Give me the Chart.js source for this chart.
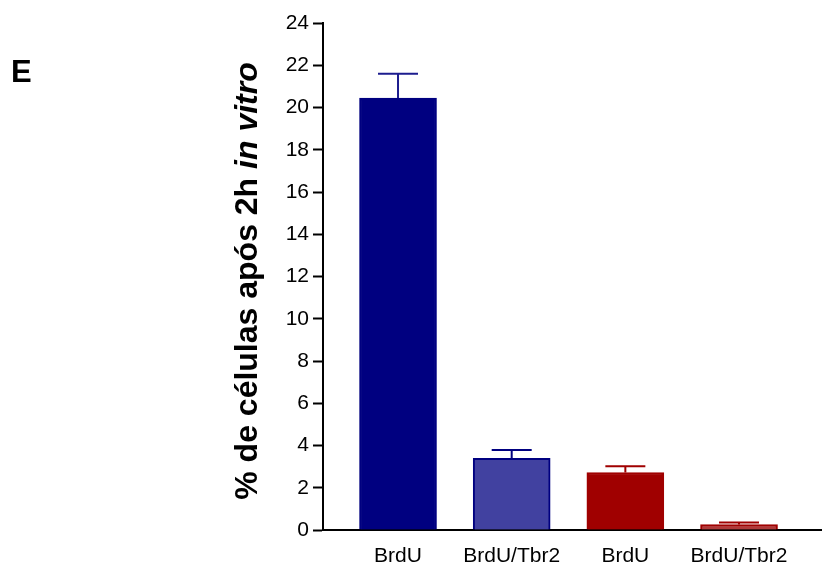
<!DOCTYPE html>
<html>
<head>
<meta charset="utf-8">
<script src="https://cdn.jsdelivr.net/npm/chart.js@4/dist/chart.umd.min.js"></script>
<style>
  html, body { margin: 0; padding: 0; background: #fff; }
  #wrap { position: relative; width: 822px; height: 566px; }
  #panel { position: absolute; left: 11px; top: 54px; font: bold 31px "Liberation Sans", Arial, sans-serif; color: #000; }
  canvas { position: absolute; left: 0; top: 0; }
</style>
</head>
<body>
<div id="wrap">
  <canvas id="chart" width="822" height="566"></canvas>
  <div id="panel">E</div>
</div>
<script>
const categories = ['BrdU', 'BrdU/Tbr2', 'BrdU', 'BrdU/Tbr2'];
const means = [20.45, 3.39, 2.72, 0.26];
const errors = [1.15, 0.4, 0.3, 0.1];
const yTicks = [0, 2, 4, 6, 8, 10, 12, 14, 16, 18, 20, 22, 24];

const fills = ['#000080', '#4141a0', '#a00000', '#b03a3a'];
const borders = ['#000080', '#000080', '#a00000', '#a00000'];
const whiskers = ['#1c1c8e', '#000080', '#a00000', '#a00000'];

const font = '"Liberation Sans", Arial, sans-serif';

// upper error bars only
const errorBars = {
  id: 'errorBars',
  afterDatasetsDraw(chart) {
    const ctx = chart.ctx;
    const y = chart.scales.y;
    chart.getDatasetMeta(0).data.forEach((bar, i) => {
      const top = y.getPixelForValue(means[i] + errors[i]);
      ctx.save();
      ctx.strokeStyle = whiskers[i];
      ctx.lineWidth = 2;
      ctx.beginPath();
      ctx.moveTo(bar.x, bar.y);
      ctx.lineTo(bar.x, top);
      ctx.moveTo(bar.x - 20, top);
      ctx.lineTo(bar.x + 20, top);
      ctx.stroke();
      ctx.restore();
    });
  }
};

// y title with italic part
const yTitle = {
  id: 'yTitle',
  afterDraw(chart) {
    const ctx = chart.ctx;
    const plain = '% de células após 2h ';
    const ital = 'in vitro';
    ctx.save();
    ctx.fillStyle = '#000';
    ctx.textBaseline = 'alphabetic';
    ctx.textAlign = 'left';
    ctx.font = 'bold 32px ' + font;
    const w1 = ctx.measureText(plain).width;
    ctx.font = 'italic bold 32px ' + font;
    const w2 = ctx.measureText(ital).width;
    ctx.translate(257, 281 + (w1 + w2) / 2);
    ctx.rotate(-Math.PI / 2);
    ctx.font = 'bold 32px ' + font;
    ctx.fillText(plain, 0, 0);
    ctx.font = 'italic bold 32px ' + font;
    ctx.fillText(ital, w1, 0);
    ctx.restore();
  }
};

new Chart(document.getElementById('chart'), {
  type: 'bar',
  data: {
    datasets: [{
      data: means.map((v, i) => ({ x: i, y: v })),
      backgroundColor: fills,
      borderColor: borders,
      borderWidth: 2,
      barThickness: 77
    }]
  },
  options: {
    responsive: false,
    animation: false,
    layout: { padding: { top: 23, left: 0, right: 0, bottom: 0 } },
    plugins: { legend: { display: false }, tooltip: { enabled: false } },
    scales: {
      x: {
        type: 'linear',
        offset: false,
        min: -0.66,
        max: 3.73,
        afterBuildTicks: s => { s.ticks = categories.map((c, i) => ({ value: i })); },
        afterFit: s => { s.height = 36; },
        grid: { display: false, drawTicks: false },
        border: { color: '#000', width: 2 },
        ticks: {
          callback: v => categories[v],
          color: '#000',
          padding: 14,
          maxRotation: 0,
          autoSkip: false,
          font: { family: font, size: 21 }
        }
      },
      y: {
        min: 0,
        max: 24,
        afterBuildTicks: s => { s.ticks = yTicks.map(v => ({ value: v })); },
        afterFit: s => { s.width = 323; },
        grid: { drawOnChartArea: false, tickLength: 10, tickWidth: 2, color: '#000' },
        border: { color: '#000', width: 2 },
        ticks: {
          color: '#000',
          padding: 4,
          font: { family: font, size: 21 }
        }
      }
    }
  },
  plugins: [errorBars, yTitle]
});
</script>
</body>
</html>
